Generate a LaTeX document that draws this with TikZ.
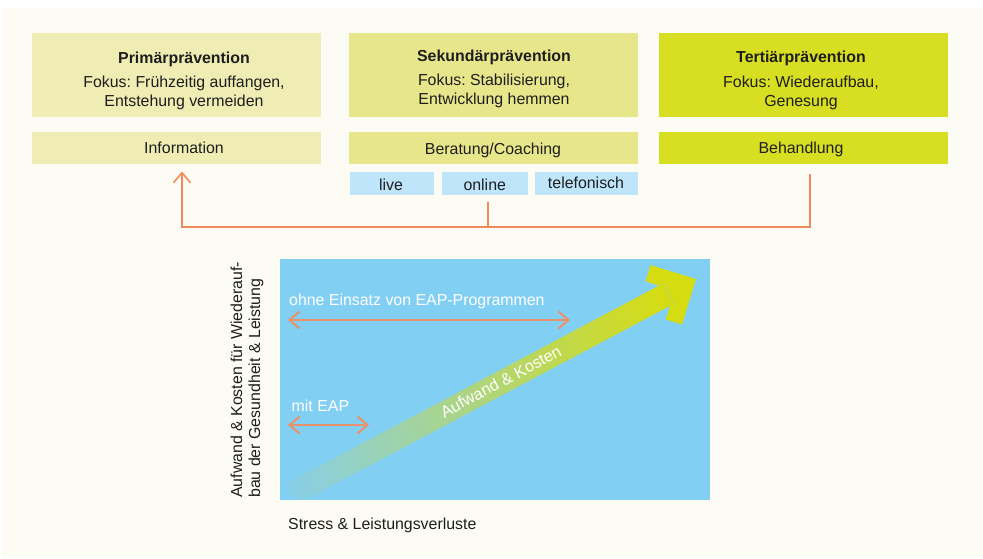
\documentclass[tikz,border=0pt]{standalone}
\usepackage{fontspec}
\setmainfont{Liberation Sans}
\usetikzlibrary{arrows.meta}
\definecolor{cream}{HTML}{FDFCF4}
\definecolor{pale}{HTML}{F0EDB4}
\definecolor{mid}{HTML}{E8E68A}
\definecolor{lime}{HTML}{D8DF22}
\definecolor{skyl}{HTML}{BEE5F9}
\definecolor{chartbg}{HTML}{82CFF4}
\definecolor{conn}{HTML}{F08A5C}
\definecolor{salmon}{HTML}{E9916A}
\definecolor{yel}{HTML}{D6DC12}
\definecolor{tailc}{HTML}{88CFE6}
\definecolor{ink}{HTML}{1E1E1E}
\begin{document}
\frenchspacing
\begin{tikzpicture}[x=1pt,y=-1pt,
  txt/.style={font=\fontsize{15.9}{19}\selectfont, text=ink, inner sep=0pt, align=center},
  boxx/.style={rectangle, inner sep=0pt, draw=none, minimum height=84pt, minimum width=289pt},
  rowbox/.style={rectangle, inner sep=0pt, draw=none, minimum height=31.5pt, minimum width=289pt},
  smallbox/.style={rectangle, inner sep=0pt, draw=none, fill=skyl, minimum height=23pt},
  connline/.style={draw=conn, line width=1.6pt},
  carrow/.style={draw=salmon, line width=2pt, {Straight Barb[length=10pt,width=17pt]}-{Straight Barb[length=10pt,width=17pt]}},
  wtxt/.style={font=\fontsize{15.9}{19}\selectfont, text=white, inner sep=0pt}
]
\useasboundingbox (0,0) rectangle (983,558);
\fill[white] (0,0) rectangle (983,558);
\fill[cream] (3,8) rectangle (983,558);

% top boxes
\node[boxx, fill=pale] (b1) at (176.5,75) {};
\node[boxx, fill=mid] (b2) at (493,75) {};
\node[boxx, fill=lime] (b3) at (803.5,75) {};
\node[txt, font=\fontsize{15.9}{19}\selectfont\bfseries] (b1t) at (184,59) {Primärprävention};
\node[txt] (b1b) at (184,92.5) {Fokus: Frühzeitig auffangen,\\Entstehung vermeiden};
\node[txt, font=\fontsize{15.9}{19}\selectfont\bfseries] (b2t) at (494,57.5) {Sekundärprävention};
\node[txt] (b2b) at (494,91) {Fokus: Stabilisierung,\\Entwicklung hemmen};
\node[txt, font=\fontsize{15.9}{19}\selectfont\bfseries] (b3t) at (801,58.5) {Tertiärprävention};
\node[txt] (b3b) at (801,92.5) {Fokus: Wiederaufbau,\\Genesung};

% second row
\node[rowbox, fill=pale] (info) at (176.5,147.75) {};
\node[rowbox, fill=mid] (ber) at (493,147.75) {};
\node[rowbox, fill=lime] (beh) at (803.5,147.75) {};
\node[txt] (infot) at (184,147.5) {Information};
\node[txt] (bert) at (493,150) {Beratung/Coaching};
\node[txt] (beht) at (801,149.5) {Behandlung};

% channels
\node[smallbox, minimum width=84pt] (live) at (392,183.5) {};
\node[smallbox, minimum width=85.5pt] (online) at (484.75,183.5) {};
\node[smallbox, minimum width=102.5pt] (tel) at (586.25,183.5) {};
\node[txt] (livet) at (391,184.5) {live};
\node[txt] (onlinet) at (484.75,185) {online};
\node[txt] (telt) at (586,182.5) {telefonisch};

% connector
\coordinate (rs) at (810,174);
\coordinate (jr) at (810,227);
\coordinate (jm) at (488,227);
\coordinate (ms) at (488,202);
\coordinate (jl) at (182,227);
\coordinate (ls) at (182,171.5);
\draw[connline, -{Straight Barb[length=10pt,width=17pt]}] (rs) -- (jr) -- (jl) -- (ls);
\draw[connline] (ms) -- (jm);

% chart
\node[rectangle, fill=chartbg, draw=none, inner sep=0pt, minimum width=430pt, minimum height=241pt] (chart) at (494.5,379) {};

\begin{scope}
  \clip (279.5,258.5) rectangle (709.5,499.5);
  \begin{scope}[shift={(696,279)}, rotate=28]
    \foreach \i in {0,...,59} {
      \pgfmathsetmacro{\xa}{-458+\i*7.1}
      \pgfmathsetmacro{\xb}{\xa+7.6}
      \pgfmathsetmacro{\p}{\i*100/59}
      \fill[yel!\p!tailc] (\xa,-11.5) rectangle (\xb,11.5);
    }
    \fill[yel] (0,0) -- (-33.6,-33.6) -- (-45.6,-21.6) -- (-35.7,-11.5) -- (-31,-11.5) -- (-31,11.5) -- (-35.7,11.5) -- (-45.6,21.6) -- (-33.6,33.6) -- cycle;
  \end{scope}
\end{scope}
\node[wtxt, rotate=28, font=\fontsize{16.3}{19}\selectfont] (ak) at (500.8,381.5) {Aufwand \& Kosten};

\node[wtxt, anchor=base west] (ohne) at (289,305) {ohne Einsatz von EAP-Programmen};
\coordinate (o1) at (288,320);
\coordinate (o2) at (570,320);
\draw[carrow] (o1) -- (o2);
\node[wtxt, anchor=base west] (mit) at (291.5,411.5) {mit EAP};
\coordinate (m1) at (288,425);
\coordinate (m2) at (369,425);
\draw[carrow] (m1) -- (m2);

% axis labels
\node[txt, anchor=base west] (xl) at (288,529) {Stress \& Leistungsverluste};
\node[txt, rotate=90, anchor=west, align=left, font=\fontsize{15.9}{18}\selectfont] (yl) at (247,498) {Aufwand \& Kosten für Wiederauf-\\bau der Gesundheit \& Leistung};
\end{tikzpicture}
\end{document}
